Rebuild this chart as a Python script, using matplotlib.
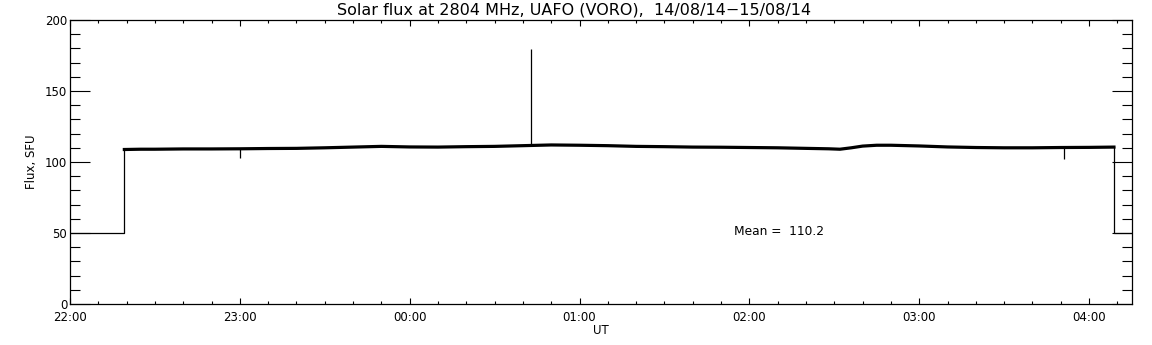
import numpy as np
import matplotlib.pyplot as plt
from matplotlib.ticker import MultipleLocator

# Time in minutes after 22:00 UT
t_flux = [19.2, 25, 30, 40, 50, 60, 70, 80, 90, 100, 110, 120, 130, 140, 150,
          160, 170, 180, 190, 200, 210, 220, 230, 240, 250, 260, 268, 272,
          276, 280, 285, 290, 300, 310, 320, 330, 340, 350, 360, 368.8]
flux = [108.8, 109.0, 109.0, 109.2, 109.2, 109.3, 109.5, 109.6, 110.0, 110.5,
        111.0, 110.6, 110.5, 110.8, 111.0, 111.5, 112.0, 111.8, 111.5, 111.0,
        110.8, 110.5, 110.4, 110.2, 110.0, 109.6, 109.3, 109.0, 110.0, 111.2,
        111.8, 111.8, 111.3, 110.6, 110.2, 110.0, 110.0, 110.2, 110.3, 110.5]

# Calibration / off-sun level before and after observation
t_start = [0, 19.2, 19.2]
v_start = [50, 50, 108.8]
t_end = [368.8, 368.8, 375]
v_end = [110.5, 50, 50]

# Single-sample spikes and dips
spike_t = [162.7, 60.0, 351.0]
spike_base = [112.0, 109.3, 110.2]
spike_top = [179.5, 103.0, 102.0]

mean_flux = 110.2
tick_labels = ['22:00', '23:00', '00:00', '01:00', '02:00', '03:00', '04:00']

fig = plt.figure(figsize=(11.52, 3.45), dpi=100)
ax = fig.add_axes([70 / 1152, 41 / 345, 1061.5 / 1152, 284 / 345])

ax.plot(t_start, v_start, color='black', lw=0.9)
ax.plot(t_end, v_end, color='black', lw=0.9)
ax.plot(t_flux, flux, color='black', lw=2.3, solid_joinstyle='miter')
ax.vlines(spike_t, spike_base, spike_top, color='black', lw=0.9)

ax.text(234.5, 51, 'Mean =  %.1f' % mean_flux, fontsize=8.8, va='center', ha='left')

ax.set_xlim(0, 375)
ax.set_ylim(0, 200)
ax.set_xticks(np.arange(0, 361, 60))
ax.set_xticklabels(tick_labels)
ax.xaxis.set_minor_locator(MultipleLocator(10))
ax.set_yticks([0, 50, 100, 150, 200])
ax.yaxis.set_minor_locator(MultipleLocator(10))

ax.tick_params(axis='x', which='major', direction='in', top=True, length=4, width=0.8,
               labelsize=8.5, pad=5)
ax.tick_params(axis='x', which='minor', direction='in', top=True, length=2.2, width=0.8)
ax.tick_params(axis='y', which='major', direction='in', right=True, length=14.4, width=0.8,
               labelsize=8.5, pad=2)
ax.tick_params(axis='y', which='minor', direction='in', right=True, length=7.2, width=0.8)
for s in ax.spines.values():
    s.set_linewidth(0.9)

ax.set_xlabel('UT', fontsize=8.5, labelpad=0)
ax.set_ylabel('Flux, SFU', fontsize=8.5, labelpad=5)
fig.text(0.498, 0.972, 'Solar flux at 2804 MHz, UAFO (VORO),  14/08/14\u221215/08/14',
         ha='center', va='center', fontsize=11.5)

fig.savefig('out.png', dpi=100)
